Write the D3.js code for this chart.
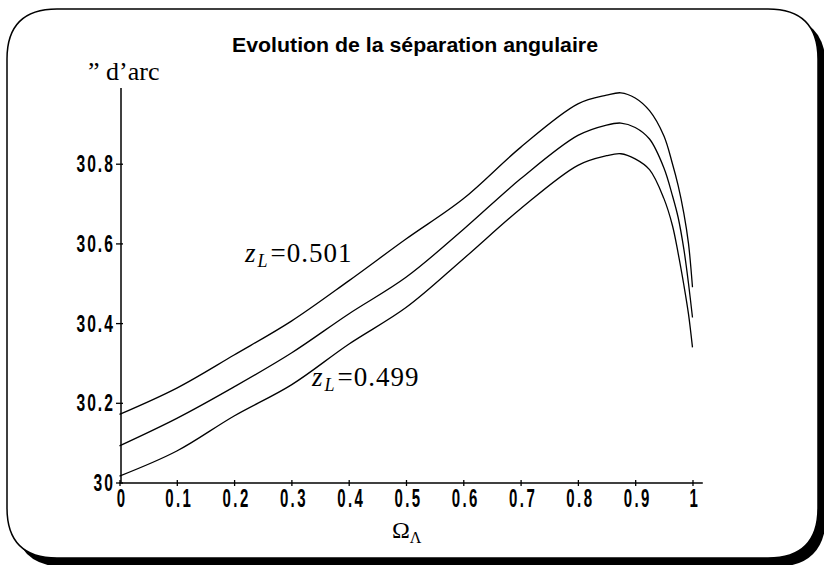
<!DOCTYPE html>
<html>
<head>
<meta charset="utf-8">
<script src="https://cdn.jsdelivr.net/npm/d3@7"></script>
<style>
  body { margin: 0; background: #fff; }
  .tick text { font-family: "Liberation Sans", Arial, sans-serif; font-weight: bold; fill: #000; }
</style>
</head>
<body>
<div id="chart"></div>
<script>
// Omega_Lambda values (x)
var omega = [0, 0.1, 0.2, 0.3, 0.4, 0.5, 0.6, 0.7, 0.8, 0.85, 0.875, 0.9, 0.925, 0.95, 0.965, 0.975, 0.985, 0.993, 1.0];

// angular separation in arc seconds, one array per lens redshift
var sepHigh = [30.171, 30.237, 30.320, 30.405, 30.506, 30.611, 30.712, 30.841, 30.950, 30.972, 30.978, 30.965, 30.933, 30.870, 30.800, 30.745, 30.675, 30.600, 30.490]; // z_L = 0.501
var sepMid  = [30.092, 30.161, 30.240, 30.325, 30.423, 30.515, 30.635, 30.762, 30.871, 30.897, 30.902, 30.891, 30.862, 30.790, 30.720, 30.665, 30.585, 30.500, 30.414]; // z_L = 0.500
var sepLow  = [30.016, 30.079, 30.167, 30.245, 30.347, 30.439, 30.561, 30.687, 30.796, 30.820, 30.825, 30.812, 30.785, 30.713, 30.645, 30.575, 30.495, 30.423, 30.339]; // z_L = 0.499

var xTicks = [0, 0.1, 0.2, 0.3, 0.4, 0.5, 0.6, 0.7, 0.8, 0.9, 1];
var yTicks = [30, 30.2, 30.4, 30.6, 30.8];

var W = 824, H = 565;

var svg = d3.select("#chart").append("svg")
    .attr("width", W)
    .attr("height", H);

// frame with black shadow
function roundRect(x0, y0, x1, y1, r) {
    return `M${x0 + r},${y0} H${x1 - r} Q${x1},${y0} ${x1},${y0 + r} V${y1 - r} Q${x1},${y1} ${x1 - r},${y1} H${x0 + r} Q${x0},${y1} ${x0},${y1 - r} V${y0 + r} Q${x0},${y0} ${x0 + r},${y0} Z`;
}
svg.append("path")
    .attr("d", roundRect(14, 16, 826, 567, 52))
    .attr("fill", "#000");
svg.append("path")
    .attr("d", roundRect(7, 9, 818, 558, 50))
    .attr("fill", "#fff")
    .attr("stroke", "#000")
    .attr("stroke-width", 1.5);

// scales
var x = d3.scaleLinear().domain([0, 1.018]).range([119.5, 702.8]);
var y = d3.scaleLinear().domain([30, 30.99]).range([482.5, 88]);

// x axis
var xAxis = svg.append("g")
    .attr("transform", "translate(0,483)")
    .call(d3.axisBottom(x).tickValues(xTicks).tickSize(3).tickFormat(d3.format("")));
xAxis.select(".domain").attr("d", `M${x(0)},0H${x(1.018)}`).attr("stroke-width", 1.3);
xAxis.selectAll(".tick line").attr("y1", -3).attr("y2", 3).attr("stroke-width", 1.3);
xAxis.selectAll(".tick text")
    .attr("y", 0)
    .attr("dy", 0)
    .attr("transform", "translate(2,24) scale(0.6,1)")
    .style("font-size", "25px")
    .style("letter-spacing", "4px");

// y axis
var yAxis = svg.append("g")
    .attr("transform", "translate(121,0)")
    .call(d3.axisLeft(y).tickValues(yTicks).tickSize(3).tickFormat(d3.format("")));
yAxis.select(".domain").attr("d", `M0,${y(30)}V88`).attr("stroke-width", 1.5);
yAxis.selectAll(".tick line").attr("x1", -5).attr("x2", 2).attr("stroke-width", 1.3);
yAxis.selectAll(".tick text")
    .attr("x", 0)
    .attr("dy", 0)
    .attr("transform", "translate(-6,8) scale(0.68,1)")
    .style("font-size", "23px")
    .style("letter-spacing", "3px");

// curves
var line = d3.line()
    .x(d => x(d[0]))
    .y(d => y(d[1]))
    .curve(d3.curveCatmullRom.alpha(0.5));

[sepHigh, sepMid, sepLow].forEach(function(s) {
    svg.append("path")
        .datum(omega.map((o, i) => [o, s[i]]))
        .attr("d", line)
        .attr("fill", "none")
        .attr("stroke", "#000")
        .attr("stroke-width", 1.3);
});

// title
svg.append("text")
    .attr("x", 232)
    .attr("y", 52)
    .attr("textLength", 366)
    .attr("lengthAdjust", "spacingAndGlyphs")
    .style("font-family", "'Liberation Sans', Arial, sans-serif")
    .style("font-weight", "bold")
    .style("font-size", "20px")
    .text("Evolution de la séparation angulaire");

// y unit label
svg.append("text")
    .attr("x", 88)
    .attr("y", 80)
    .style("font-family", "'Liberation Serif', 'Times New Roman', serif")
    .style("font-size", "26px")
    .text("\u201D d\u2019arc");

// x axis label
var xl = svg.append("text")
    .attr("x", 392)
    .attr("y", 538)
    .style("font-family", "'Liberation Serif', 'Times New Roman', serif")
    .style("font-size", "24px");
xl.append("tspan").text("\u03A9");
xl.append("tspan").attr("dy", 5).style("font-size", "16px").text("\u039B");

// curve labels
function zLabel(px, py, val) {
    var t = svg.append("text")
        .attr("x", px)
        .attr("y", py)
        .style("font-family", "'Liberation Serif', 'Times New Roman', serif")
        .style("font-size", "27px")
        .style("letter-spacing", "1px");
    t.append("tspan").style("font-style", "italic").text("z");
    t.append("tspan").attr("dy", 5).attr("dx", 1).style("font-style", "italic").style("font-size", "18px").text("L");
    t.append("tspan").attr("dy", -5).attr("dx", 2).text("=" + val);
}
zLabel(245, 262, "0.501");
zLabel(312, 386, "0.499");
</script>
</body>
</html>
